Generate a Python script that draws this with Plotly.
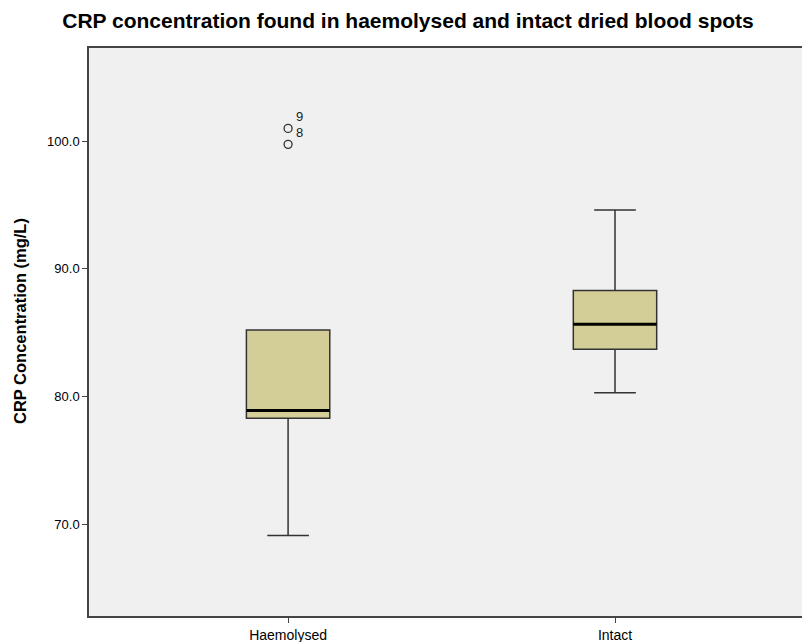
import plotly.graph_objects as go

categories = ["Haemolysed", "Intact"]
lower_whisker = [69.1, 80.3]
q1 = [78.3, 83.7]
median = [78.9, 85.65]
q3 = [85.2, 88.3]
upper_whisker = [85.2, 94.6]
outlier_values = [101.0, 99.75]
outlier_labels = ["9", "8"]
outlier_group = [0, 0]

BOX_W = 0.255
FILL = "#D3CE97"
EDGE = "#333333"
FONT = "Liberation Sans, Arial"

fig = go.Figure()
xs = list(range(len(categories)))
fig.add_trace(go.Box(
    x=xs, q1=q1, median=median, q3=q3,
    lowerfence=lower_whisker, upperfence=upper_whisker,
    width=BOX_W, whiskerwidth=0.5,
    fillcolor=FILL, line=dict(color=EDGE, width=1.5),
    boxpoints=False, hoverinfo="skip", showlegend=False,
))
for i, m in enumerate(median):
    fig.add_trace(go.Scatter(
        x=[i - BOX_W / 2, i + BOX_W / 2], y=[m, m], mode="lines",
        line=dict(color="#000000", width=3), showlegend=False, hoverinfo="skip",
    ))
fig.add_trace(go.Scatter(
    x=outlier_group, y=outlier_values, mode="markers",
    marker=dict(symbol="circle-open", size=8, color=EDGE, line=dict(width=1.3)),
    showlegend=False, hoverinfo="skip",
))
for g, v, lab in zip(outlier_group, outlier_values, outlier_labels):
    fig.add_annotation(x=g, y=v, text=lab, showarrow=False, xshift=11, yshift=11.5,
                       font=dict(family=FONT, size=13, color="#222"))

fig.add_annotation(xref="paper", yref="paper", x=-69 / 713, y=(616 - 321) / 568,
                   text="<b>CRP Concentration (mg/L)</b>", textangle=-90, showarrow=False,
                   xanchor="center", yanchor="middle",
                   font=dict(family=FONT, size=16.5, color="#000"))

fig.update_layout(
    width=802, height=642,
    margin=dict(l=89, r=0, t=48, b=26),
    paper_bgcolor="white", plot_bgcolor="#F0F0F0",
    title=dict(text="<b>CRP concentration found in haemolysed and intact dried blood spots</b>",
               x=408 / 802, xanchor="center", y=1 - 21 / 642, yanchor="middle",
               font=dict(family=FONT, size=21, color="#000")),
    font=dict(family=FONT, color="#000"),
)
fig.update_xaxes(
    range=[-0.609, 1.572], tickvals=xs, ticktext=categories,
    showgrid=False, zeroline=False, showline=True, mirror=True,
    linecolor="#444", linewidth=1.5, ticks="outside", ticklen=5, tickcolor="#444",
    tickfont=dict(size=14),
)
fig.update_yaxes(
    range=[62.8, 107.3], tickvals=[70, 80, 90, 100],
    ticktext=["70.0", "80.0", "90.0", "100.0"],
    showgrid=False, zeroline=False, showline=True, mirror=False,
    linecolor="#444", linewidth=1.5, ticks="outside", ticklen=5, tickcolor="#444",
    tickfont=dict(size=13),
)
fig.write_html("out.html")
